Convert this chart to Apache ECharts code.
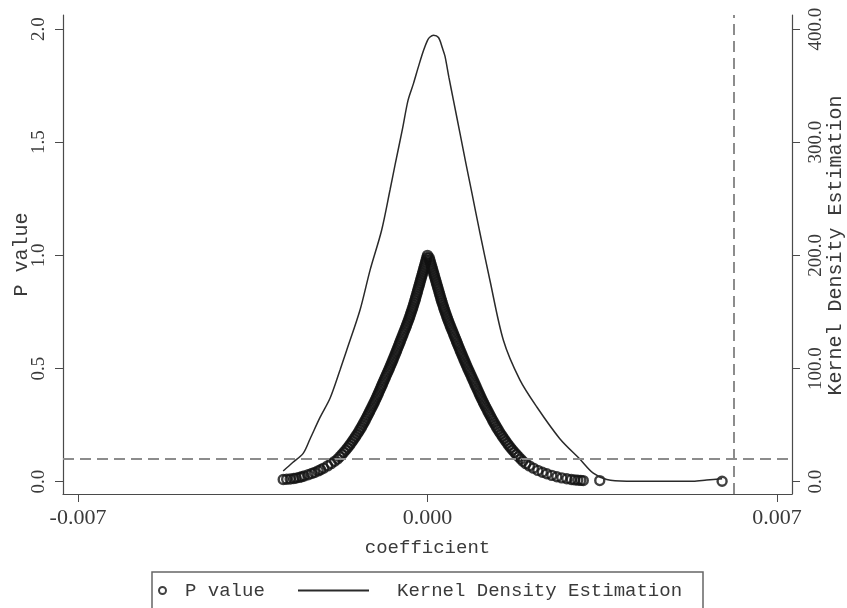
<!DOCTYPE html>
<html lang="en">
<head>
    <meta charset="UTF-8">
    <title>P value / KDE</title>
    <script type="text/javascript" src="https://cdn.jsdelivr.net/npm/echarts@6.0.0/dist/echarts.min.js"></script>
    <style>
        *{
            margin:0;
            padding:0;
        }
        #main {
            width:847px;
            height:608px;
            background-color:#fff;
        }
    </style>
</head>
<body>
<div id="main"></div>
<script type="text/javascript">
    // scatter: coefficient vs p value
    // left tail -> peak
    var pCoefLeft = [
        -0.00289,-0.00282,-0.00275,-0.00268,-0.00263,-0.00257,-0.00252,-0.00247,-0.00239,-0.00232,-0.00226,-0.00219,-0.00214,-0.00208,-0.00200,-0.00193,-0.00186,
        -0.001800,-0.001757,-0.001715,-0.001675,-0.001636,-0.001600,-0.001565,-0.001532,-0.001500,-0.001470,
        -0.001440,-0.001410,-0.001380,-0.001353,-0.001326,-0.001300,-0.001275,-0.001250,-0.001226,-0.001203,
        -0.001180,-0.001158,-0.001135,-0.001112,-0.001090,-0.001068,-0.001046,-0.001025,-0.001005,-0.000985,
        -0.000965,-0.000945,-0.000925,-0.000905,-0.000885,-0.000865,-0.000845,-0.000825,-0.000805,-0.000785,
        -0.000765,-0.000746,-0.000727,-0.000708,-0.000690,-0.000671,-0.000653,-0.000635,-0.000617,-0.000599,
        -0.000581,-0.000563,-0.000545,-0.000527,-0.000509,-0.000491,-0.000474,-0.000456,-0.000438,-0.000421,
        -0.000404,-0.000387,-0.000371,-0.000355,-0.000340,-0.000325,-0.000310,-0.000295,-0.000281,-0.000267,
        -0.000253,-0.000240,-0.000227,-0.000214,-0.000201,-0.000189,-0.000176,-0.000163,-0.000151,-0.000138,
        -0.000126,-0.000113,-0.000100,-0.000088,-0.000076,-0.000063,-0.000051,-0.000038,-0.000026,-0.000013,
        0.000000
    ];
    var pValueLeft = [
        0.010,0.011,0.012,0.014,0.016,0.019,0.022,0.025,0.031,0.036,0.041,0.048,0.053,0.060,0.070,0.080,0.090,
        0.10,0.11,0.12,0.13,0.14,0.15,0.16,0.17,0.18,0.19,
        0.20,0.21,0.22,0.23,0.24,0.25,0.26,0.27,0.28,0.29,
        0.30,0.31,0.32,0.33,0.34,0.35,0.36,0.37,0.38,0.39,
        0.40,0.41,0.42,0.43,0.44,0.45,0.46,0.47,0.48,0.49,
        0.50,0.51,0.52,0.53,0.54,0.55,0.56,0.57,0.58,0.59,
        0.60,0.61,0.62,0.63,0.64,0.65,0.66,0.67,0.68,0.69,
        0.70,0.71,0.72,0.73,0.74,0.75,0.76,0.77,0.78,0.79,
        0.80,0.81,0.82,0.83,0.84,0.85,0.86,0.87,0.88,0.89,
        0.90,0.91,0.92,0.93,0.94,0.95,0.96,0.97,0.98,0.99,
        1.00
    ];
    // peak -> right tail
    var pCoefRight = [
        0.000032,0.000046,0.000059,0.000073,0.000086,0.000099,0.000112,0.000125,0.000137,0.000150,
        0.000163,0.000176,0.000189,0.000202,0.000215,0.000228,0.000241,0.000254,0.000267,0.000281,
        0.000295,0.000310,0.000324,0.000339,0.000355,0.000370,0.000386,0.000402,0.000419,0.000436,
        0.000454,0.000471,0.000490,0.000508,0.000526,0.000544,0.000563,0.000581,0.000600,0.000618,
        0.000637,0.000655,0.000674,0.000693,0.000711,0.000731,0.000750,0.000769,0.000788,0.000808,
        0.000829,0.000849,0.000870,0.000890,0.000911,0.000932,0.000952,0.000973,0.000994,0.001014,
        0.001035,0.001055,0.001076,0.001097,0.001120,0.001142,0.001165,0.001189,0.001212,0.001235,
        0.001259,0.001283,0.001308,0.001333,0.001359,0.001386,0.001413,0.001441,0.001471,0.001502,
        0.001533,0.001564,0.001596,0.001630,0.001665,0.001702,0.001741,0.001782,0.001824,0.001868,
        0.00191,0.00197,0.00204,0.00212,0.00221,0.00230,0.00239,0.00249,0.00259,0.00269,0.00279,0.00288,0.00295,0.00301,0.00307,0.00312,
        0.00345,0.00590
    ];
    var pValueRight = [
        0.99,0.98,0.97,0.96,0.95,0.94,0.93,0.92,0.91,0.90,
        0.89,0.88,0.87,0.86,0.85,0.84,0.83,0.82,0.81,0.80,
        0.79,0.78,0.77,0.76,0.75,0.74,0.73,0.72,0.71,0.70,
        0.69,0.68,0.67,0.66,0.65,0.64,0.63,0.62,0.61,0.60,
        0.59,0.58,0.57,0.56,0.55,0.54,0.53,0.52,0.51,0.50,
        0.49,0.48,0.47,0.46,0.45,0.44,0.43,0.42,0.41,0.40,
        0.39,0.38,0.37,0.36,0.35,0.34,0.33,0.32,0.31,0.30,
        0.29,0.28,0.27,0.26,0.25,0.24,0.23,0.22,0.21,0.20,
        0.19,0.18,0.17,0.16,0.15,0.14,0.13,0.12,0.11,0.10,
        0.090,0.080,0.070,0.060,0.050,0.042,0.035,0.028,0.022,0.017,0.013,0.010,0.008,0.007,0.006,0.005,
        0.005,0.002
    ];

    // kernel density estimation curve (right axis)
    var kdeCoef = [
        -0.00289,-0.00270,-0.00249,-0.00235,-0.00215,-0.00195,-0.00175,-0.00162,-0.00135,-0.00115,-0.00092,
        -0.00075,-0.00065,-0.00050,-0.00039,-0.00028,-0.00018,-0.00008,0.00000,0.00005,0.00012,0.00022,
        0.00030,0.00035,0.00043,0.00052,0.00065,0.00077,0.00089,0.00104,0.00125,0.00152,0.00185,0.00219,
        0.00265,0.00305,0.00332,0.00359,0.00399,0.00466,0.00532,0.00559,0.00590
    ];
    var kdeValue = [
        9.5,17,25,38,57,74,99,116,152,187,222,
        258,280,312,337,352,367,381,390,393,394.5,392.5,
        383,376,357,337,308,281,255,222,178,125,90,66,
        38,20,7.5,2,0.5,0.4,0.4,1.5,2.7
    ];

    var xTicks = [-0.007, 0, 0.007];
    var pTicks = [0, 0.5, 1.0, 1.5, 2.0];
    var kdeTicks = [0, 100, 200, 300, 400];
    var pCut = 0.1;
    var coefCut = 0.00614;

    var pMin = -0.0543, pMax = 2.062;
    var monoFont = 'Liberation Mono';
    var serifFont = 'Liberation Serif';
    var axisColor = '#4a4a4a';
    var textColor = '#3a3a3a';

    var pCoef = pCoefLeft.concat(pCoefRight);
    var pValue = pValueLeft.concat(pValueRight);
    var scatterData = pCoef.map(function (c, i) { return [c, pValue[i]]; });
    var kdeData = kdeCoef.map(function (c, i) { return [c, kdeValue[i]]; });

    var dom = document.getElementById('main');
    var myChart = echarts.init(dom, null, {renderer: 'canvas'});

    var option = {
        animation: false,
        backgroundColor: '#fff',
        grid: {
            left: 63,
            right: 55,
            top: 15,
            bottom: 114,
            outerBoundsMode: 'none'
        },
        legend: [
            {
                data: ['P value'],
                left: 158,
                top: 581,
                padding: 0,
                itemWidth: 7,
                itemHeight: 7,
                textStyle: {
                    fontFamily: monoFont,
                    fontSize: 19,
                    color: textColor,
                    padding: [0, 0, 0, 14]
                }
            },
            {
                data: [{name: 'Kernel Density Estimation', icon: 'rect'}],
                left: 298,
                top: 581,
                padding: 0,
                itemWidth: 71,
                itemHeight: 2,
                textStyle: {
                    fontFamily: monoFont,
                    fontSize: 19,
                    color: textColor,
                    padding: [0, 0, 0, 23]
                }
            }
        ],
        graphic: [
            {
                type: 'rect',
                shape: {x: 152, y: 572, width: 551, height: 60},
                style: {fill: 'none', stroke: '#666', lineWidth: 1.5},
                silent: true
            }
        ],
        xAxis: {
            type: 'value',
            min: -0.0073,
            max: 0.0073,
            name: 'coefficient',
            nameLocation: 'middle',
            nameGap: 44,
            nameMoveOverlap: false,
            nameTextStyle: {fontFamily: monoFont, fontSize: 19, color: textColor},
            splitLine: {show: false},
            axisLine: {onZero: false, lineStyle: {color: axisColor, width: 1.2}},
            axisTick: {length: 8, customValues: xTicks, lineStyle: {color: axisColor}},
            axisLabel: {
                customValues: xTicks,
                margin: 13,
                fontFamily: serifFont,
                fontSize: 22,
                color: textColor,
                formatter: function (v) { return v.toFixed(3); }
            }
        },
        yAxis: [
            {
                type: 'value',
                position: 'left',
                min: pMin,
                max: pMax,
                name: 'P value',
                nameLocation: 'middle',
                nameRotate: 90,
                nameGap: 31,
                nameMoveOverlap: false,
                nameTextStyle: {fontFamily: monoFont, fontSize: 20, color: textColor},
                splitLine: {show: false},
                axisLine: {show: true, onZero: false, lineStyle: {color: axisColor, width: 1.2}},
                axisTick: {show: true, length: 8, customValues: pTicks, lineStyle: {color: axisColor}},
                axisLabel: {
                    customValues: pTicks,
                    rotate: 90,
                    margin: 14,
                    fontFamily: serifFont,
                    fontSize: 19,
                    color: textColor,
                    formatter: function (v) { return v.toFixed(1); }
                }
            },
            {
                type: 'value',
                position: 'right',
                min: -10.86,
                max: 412.4,
                name: 'Kernel Density Estimation',
                nameLocation: 'middle',
                nameRotate: 90,
                nameGap: 34,
                nameMoveOverlap: false,
                nameTextStyle: {fontFamily: monoFont, fontSize: 20, color: textColor, padding: [0, 0, 0, 18]},
                splitLine: {show: false},
                axisLine: {show: true, onZero: false, lineStyle: {color: axisColor, width: 1.2}},
                axisTick: {show: true, length: 8, customValues: kdeTicks, lineStyle: {color: axisColor}},
                axisLabel: {
                    customValues: kdeTicks,
                    rotate: 90,
                    margin: 15,
                    fontFamily: serifFont,
                    fontSize: 19,
                    color: textColor,
                    formatter: function (v) { return v.toFixed(1); }
                }
            }
        ],
        series: [
            {
                name: 'Kernel Density Estimation',
                type: 'line',
                yAxisIndex: 1,
                data: kdeData,
                symbol: 'none',
                smooth: 0.3,
                color: '#2a2a2a',
                lineStyle: {color: '#2a2a2a', width: 1.5}
            },
            {
                name: 'P value',
                type: 'scatter',
                yAxisIndex: 0,
                data: scatterData,
                symbol: 'circle',
                symbolSize: 9,
                color: '#111',
                itemStyle: {color: 'rgba(255,255,255,0)', borderColor: '#111', borderWidth: 2.4},
                markLine: {
                    silent: true,
                    symbol: ['none', 'none'],
                    label: {show: false},
                    lineStyle: {type: [11, 6], color: '#8c8c8c', width: 2},
                    data: [
                        {yAxis: pCut},
                        [{coord: [coefCut, pMin]}, {coord: [coefCut, pMax]}]
                    ]
                }
            }
        ]
    };

    myChart.setOption(option);
</script>
</body>
</html>
